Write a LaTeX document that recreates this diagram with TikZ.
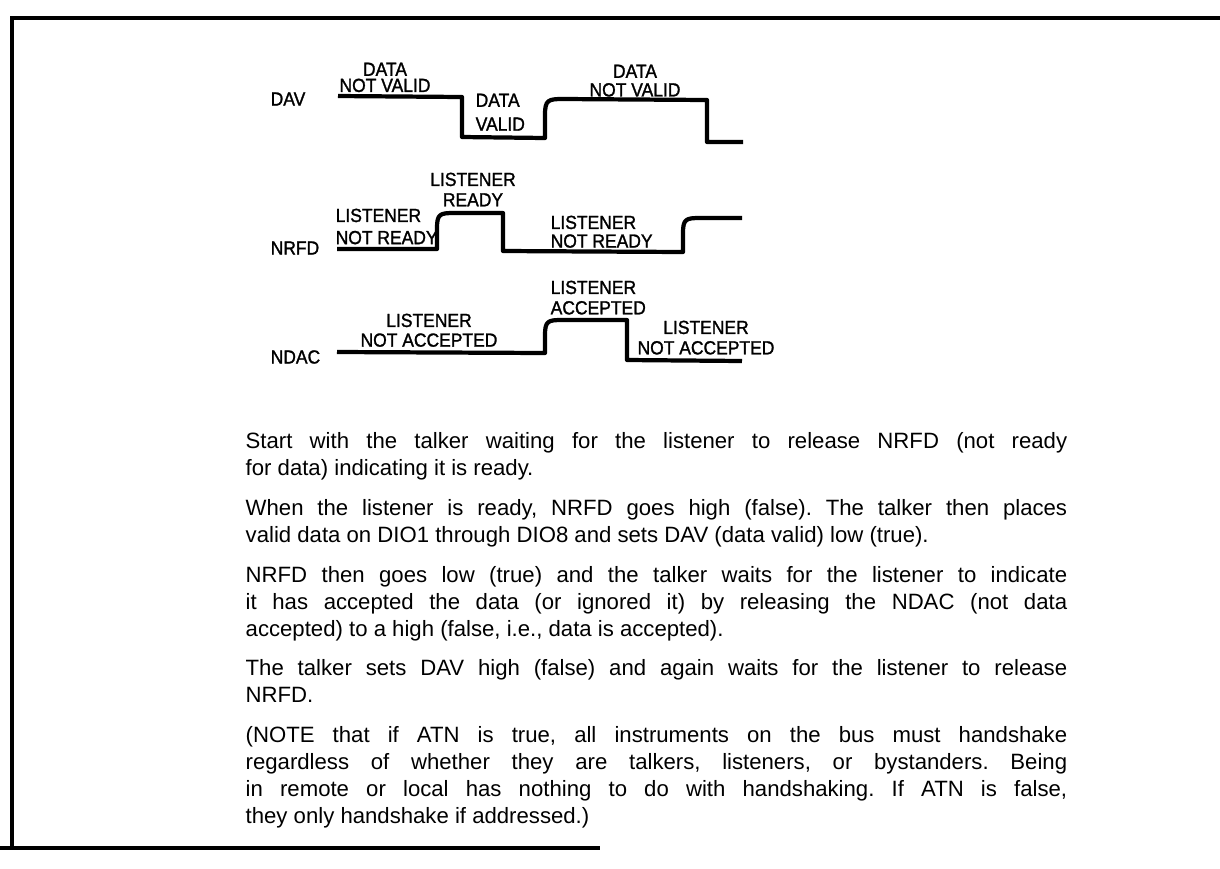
\documentclass[tikz,border=0pt]{standalone}
\usepackage{fontspec}
\setmainfont{Liberation Sans}
\newfontfamily\wavefont[FakeBold=1.4, FakeStretch=0.92]{Liberation Sans}
\usetikzlibrary{positioning}
\frenchspacing

\begin{document}
\begin{tikzpicture}[x=0.01cm, y=-0.01cm,
    wav/.style={line width=1.2pt, line join=round},
    lbl/.style={font=\wavefont\fontsize{5.4}{5.8}\selectfont, inner sep=0pt, align=center, anchor=north},
    sig/.style={font=\wavefont\fontsize{5.4}{5.8}\selectfont, inner sep=0pt, anchor=west},
    txt/.style={font=\fontsize{6.3}{7.65}\selectfont, inner sep=0pt, text width=8.21cm, align=justify, anchor=north west}
]
\useasboundingbox (0,0) rectangle (1220,869);
\draw[line width=0.9pt] (1220,18) -- (12,18) -- (12,848);
\draw[line width=0.9pt] (0,848) -- (600,848);

\node[sig] (dav) at (270,99) {DAV};
\node[sig] (nrfd) at (270,248) {NRFD};
\node[sig] (ndac) at (270,357) {NDAC};

\draw[wav] (338,96) -- (462,97) -- (462,137) -- (545,138) -- (545,115)
  .. controls (545,100) and (548,99) .. (563,99) -- (707,100) -- (707,142) -- (743,142);
\draw[wav] (337,249) -- (437,249) -- (437,228)
  .. controls (437,214) and (440,213) .. (454,213) -- (503,213) -- (503,251)
  -- (683,252) -- (683,233) .. controls (683,219) and (686,218) .. (700,218) -- (742,218);
\draw[wav] (337,352) -- (545,353) -- (545,335)
  .. controls (545,321) and (548,320) .. (562,320) -- (627,320) -- (627,360) -- (742,361);

\node[lbl] (dnv1) at (385,62) {DATA\\[-1.2pt]NOT VALID};
\node[lbl, align=left, anchor=north west] (dv) at (475,93) {DATA\\[1pt]VALID};
\node[lbl] (dnv2) at (635,64) {DATA\\[-0.5pt]NOT VALID};
\node[lbl, align=left, anchor=north west] (lnr1) at (335,208) {LISTENER\\[0.5pt]NOT READY};
\node[lbl] (lr) at (473,172) {LISTENER\\READY};
\node[lbl, align=left, anchor=north west] (lnr2) at (550,215) {LISTENER\\[-0.5pt]NOT READY};
\node[lbl] (lna1) at (429,313) {LISTENER\\[-0.2pt]NOT ACCEPTED};
\node[lbl, align=left, anchor=north west] (la) at (550,280) {LISTENER\\ACCEPTED};
\node[lbl] (lna2) at (706,320) {LISTENER\\NOT ACCEPTED};

\node[txt] (p1) at (245,432) {Start with the talker waiting for the listener to release NRFD (not ready\linebreak for data) indicating it is ready.};
\node[txt] (p2) at (245,499) {When the listener is ready, NRFD goes high (false). The talker then places\linebreak valid data on DIO1 through DIO8 and sets DAV (data valid) low (true).};
\node[txt] (p3) at (245,566) {NRFD then goes low (true) and the talker waits for the listener to indicate\linebreak it has accepted the data (or ignored it) by releasing the NDAC (not data\linebreak accepted) to a high (false, i.e., data is accepted).};
\node[txt] (p4) at (245,659) {The talker sets DAV high (false) and again waits for the listener to release\linebreak NRFD.};
\node[txt] (p5) at (245,726) {(NOTE that if ATN is true, all instruments on the bus must handshake\linebreak regardless of whether they are talkers, listeners, or bystanders. Being\linebreak in remote or local has nothing to do with handshaking. If ATN is false,\linebreak they only handshake if addressed.)};
\end{tikzpicture}
\end{document}
